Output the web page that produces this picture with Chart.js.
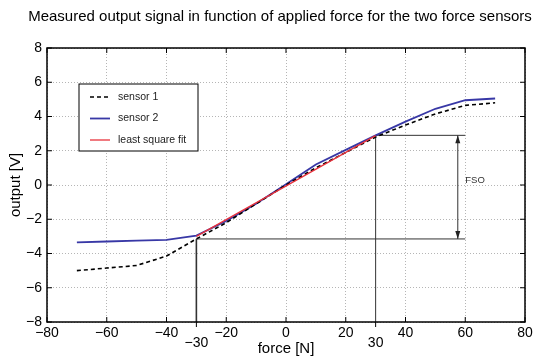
<!DOCTYPE html>
<html>
<head>
<meta charset="utf-8">
<script src="https://cdn.jsdelivr.net/npm/chart.js@4"></script>
<style>
  html, body { margin: 0; padding: 0; background: #fff; }
  #wrap { width: 543px; height: 358px; }
</style>
</head>
<body>
<div id="wrap"><canvas id="plot"></canvas></div>
<script>
// data
const force   = [-70, -60, -50, -40, -30, -20, -10, 0, 10, 20, 30, 40, 50, 60, 70];
const sensor1 = [-5.0, -4.85, -4.7, -4.15, -3.15, -2.2, -1.1, 0.0, 1.0, 1.9, 2.8, 3.5, 4.15, 4.65, 4.8];
const sensor2 = [-3.35, -3.3, -3.25, -3.2, -2.95, -2.1, -1.1, 0.05, 1.2, 2.05, 2.9, 3.7, 4.45, 4.95, 5.05];
const fitX = [-30, 30];
const fitY = [-3.0, 2.88];

const xTicks = [-80, -60, -40, -20, 0, 20, 40, 60, 80];
const yTicks = [-8, -6, -4, -2, 0, 2, 4, 6, 8];
const extraX = [-30, 30];

const fsoLow = -3.15;
const fsoHigh = 2.9;
const fsoEnd = 60;
const arrowX = 57.5;

const FONT = "'Liberation Sans', Arial, Helvetica, sans-serif";
const minus = v => String(v).replace('-', '\u2212');

const pts = (xs, ys) => xs.map((x, i) => ({ x: x, y: ys[i] }));

const guide = (data, w) => ({
  label: '', data: data, borderColor: '#333', borderWidth: w,
  pointRadius: 0, fill: false, tension: 0, order: 5
});

const datasets = [
  { label: 'sensor 1', data: pts(force, sensor1), borderColor: '#000', borderWidth: 1.6,
    borderDash: [4, 3], pointRadius: 0, fill: false, order: 2 },
  { label: 'sensor 2', data: pts(force, sensor2), borderColor: '#3838a6', borderWidth: 1.8,
    pointRadius: 0, fill: false, order: 3 },
  { label: 'least square fit', data: pts(fitX, fitY), borderColor: '#e8323c', borderWidth: 1.3,
    pointRadius: 0, fill: false, order: 1 },
  guide([{ x: -30, y: -8 }, { x: -30, y: fsoLow }], 1.6),
  guide([{ x: -30, y: fsoLow }, { x: fsoEnd, y: fsoLow }], 1),
  guide([{ x: 30, y: -8 }, { x: 30, y: fsoHigh }], 1),
  guide([{ x: 30, y: fsoHigh }, { x: fsoEnd, y: fsoHigh }], 1),
  guide([{ x: arrowX, y: fsoLow }, { x: arrowX, y: fsoHigh }], 1)
];

// frame, inward ticks, extra labels, arrows, FSO text, legend, title
const matlabBits = {
  id: 'matlabBits',
  afterDatasetsDraw(chart) {
    const ctx = chart.ctx;
    const a = chart.chartArea;
    const xs = chart.scales.x, ys = chart.scales.y;
    ctx.save();
    ctx.setLineDash([]);
    ctx.strokeStyle = '#000';
    ctx.lineWidth = 1.5;
    ctx.strokeRect(a.left, a.top, a.right - a.left, a.bottom - a.top);

    ctx.lineWidth = 1;
    ctx.beginPath();
    xTicks.forEach(v => {
      const p = xs.getPixelForValue(v);
      ctx.moveTo(p, a.bottom); ctx.lineTo(p, a.bottom - 5);
      ctx.moveTo(p, a.top); ctx.lineTo(p, a.top + 5);
    });
    yTicks.forEach(v => {
      const p = ys.getPixelForValue(v);
      ctx.moveTo(a.left, p); ctx.lineTo(a.left + 5, p);
      ctx.moveTo(a.right, p); ctx.lineTo(a.right - 5, p);
    });
    extraX.forEach(v => {
      const p = xs.getPixelForValue(v);
      ctx.moveTo(p, a.bottom); ctx.lineTo(p, a.bottom + 5);
    });
    ctx.stroke();

    // extra tick labels
    ctx.fillStyle = '#000';
    ctx.font = '14px ' + FONT;
    ctx.textAlign = 'center';
    ctx.textBaseline = 'middle';
    extraX.forEach(v => {
      ctx.fillText(minus(v), xs.getPixelForValue(v), a.bottom + 21);
    });

    // arrow heads
    const ax = xs.getPixelForValue(arrowX);
    const yt = ys.getPixelForValue(fsoHigh), yb = ys.getPixelForValue(fsoLow);
    ctx.fillStyle = '#222';
    ctx.beginPath();
    ctx.moveTo(ax, yt); ctx.lineTo(ax - 2.5, yt + 8); ctx.lineTo(ax + 2.5, yt + 8); ctx.closePath();
    ctx.moveTo(ax, yb); ctx.lineTo(ax - 2.5, yb - 8); ctx.lineTo(ax + 2.5, yb - 8); ctx.closePath();
    ctx.fill();

    ctx.font = '9.5px ' + FONT;
    ctx.fillStyle = '#333';
    ctx.textAlign = 'left';
    ctx.fillText('FSO', xs.getPixelForValue(60), ys.getPixelForValue(0.25));

    // legend box
    const lx = a.left + 32, ly = a.top + 36, lw = 119, lh = 67;
    ctx.fillStyle = '#fff';
    ctx.fillRect(lx, ly, lw, lh);
    ctx.strokeStyle = '#000';
    ctx.lineWidth = 1;
    ctx.strokeRect(lx, ly, lw, lh);
    ctx.font = '10.5px ' + FONT;
    ctx.textBaseline = 'middle';
    datasets.slice(0, 3).forEach((d, i) => {
      const yy = ly + 13 + i * 21.5;
      ctx.strokeStyle = d.borderColor;
      ctx.lineWidth = d.borderWidth;
      ctx.setLineDash(d.borderDash ? [4, 3] : []);
      ctx.beginPath();
      ctx.moveTo(lx + 11, yy); ctx.lineTo(lx + 31, yy);
      ctx.stroke();
      ctx.setLineDash([]);
      ctx.fillStyle = '#222';
      ctx.fillText(d.label, lx + 39, yy);
    });

    // title
    ctx.font = '15px ' + FONT;
    ctx.fillStyle = '#000';
    ctx.textAlign = 'center';
    ctx.fillText('Measured output signal in function of applied force for the two force sensors', 280, 17);
    ctx.restore();
  }
};

new Chart(document.getElementById('plot'), {
  type: 'line',
  data: { datasets: datasets },
  options: {
    responsive: true,
    maintainAspectRatio: false,
    animation: false,
    layout: { padding: { top: 48, right: 18, left: 0, bottom: 0 } },
    plugins: { legend: { display: false }, title: { display: false }, tooltip: { enabled: false } },
    scales: {
      x: {
        type: 'linear', min: -80, max: 80,
        afterBuildTicks: s => { s.ticks = xTicks.map(v => ({ value: v })); },
        afterFit: s => { s.height = 36; },
        grid: { color: '#b5b5b5', lineWidth: 1, drawTicks: false },
        border: { display: false, dash: [1, 2] },
        ticks: { padding: 3, color: '#000', font: { family: FONT, size: 14 },
                 maxRotation: 0, autoSkip: false, callback: v => minus(v) },
        title: { display: true, text: 'force [N]', color: '#000',
                 font: { family: FONT, size: 15 }, padding: { top: 0, bottom: 0 } }
      },
      y: {
        type: 'linear', min: -8, max: 8,
        afterBuildTicks: s => { s.ticks = yTicks.map(v => ({ value: v })); },
        afterFit: s => { s.width = 47; },
        grid: { color: '#b5b5b5', lineWidth: 1, drawTicks: false },
        border: { display: false, dash: [1, 2] },
        ticks: { padding: 5, color: '#000', font: { family: FONT, size: 14 },
                 autoSkip: false, callback: v => minus(v) },
        title: { display: true, text: 'output [V]', color: '#000',
                 font: { family: FONT, size: 15 }, padding: { top: 7, bottom: 0 } }
      }
    }
  },
  plugins: [matlabBits]
});
</script>
</body>
</html>
